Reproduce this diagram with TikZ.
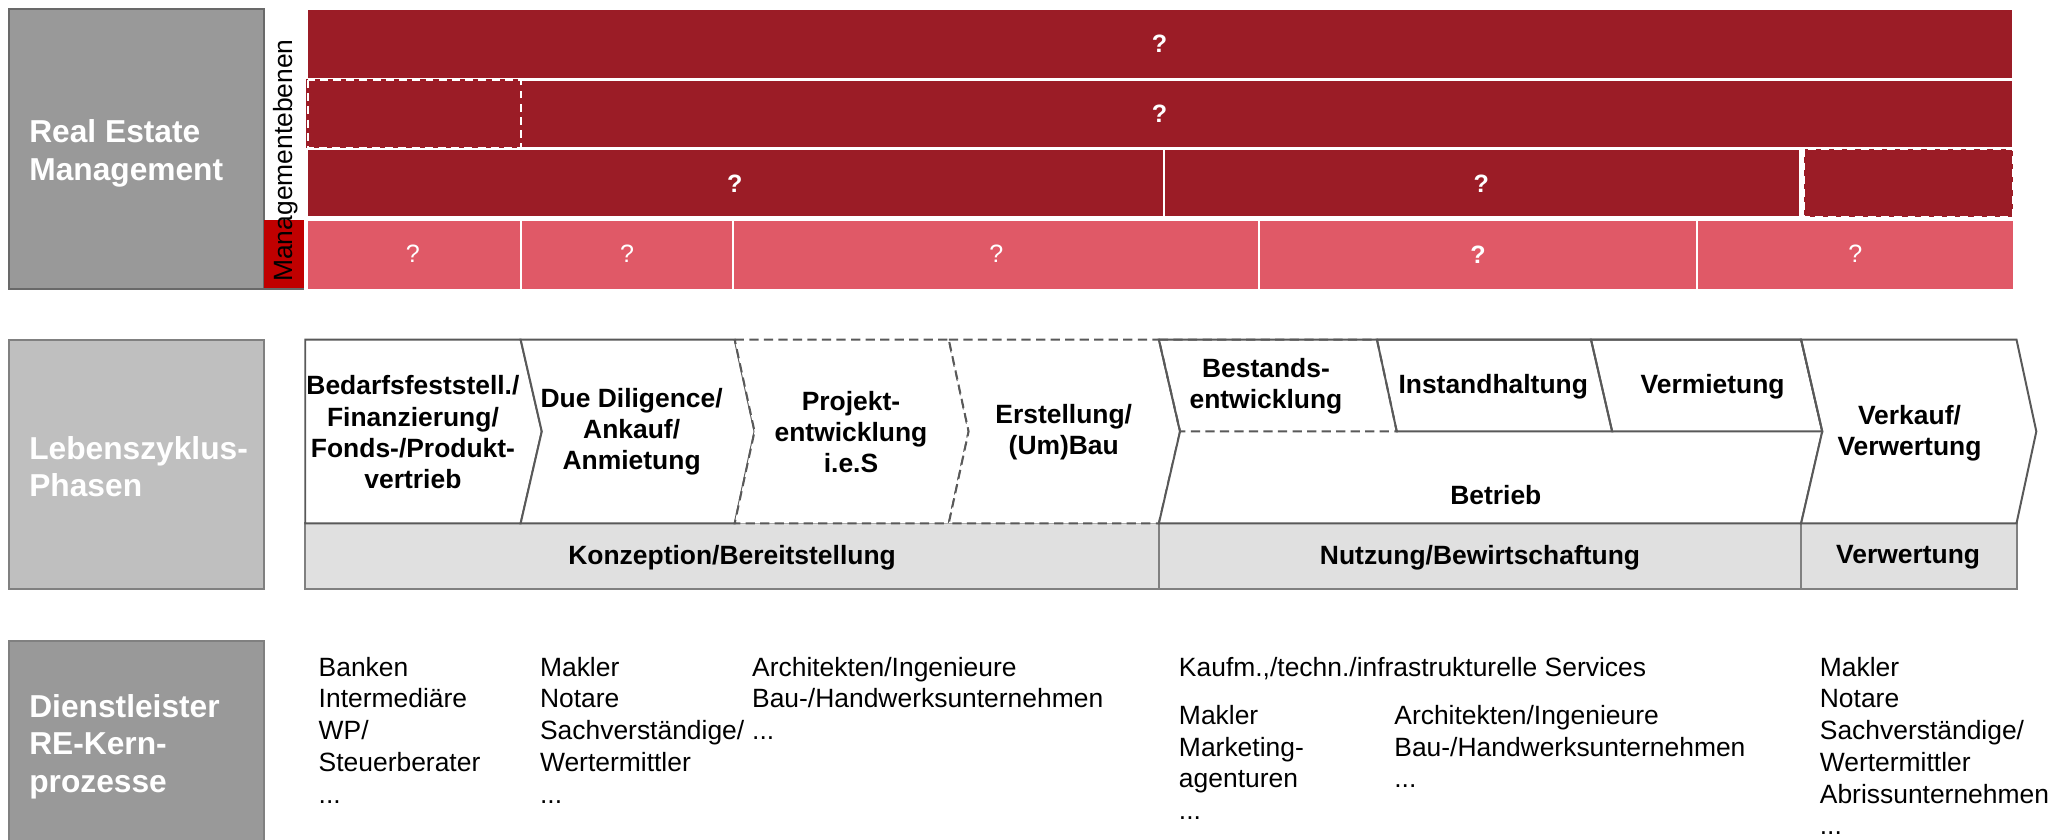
\documentclass[tikz,border=0pt]{standalone}
\usepackage{fontspec}
\setmainfont{Liberation Sans}
\definecolor{barDark}{RGB}{155,28,38}
\definecolor{barLight}{RGB}{224,89,103}
\definecolor{stripRed}{RGB}{192,0,0}
\definecolor{boxGray}{RGB}{153,153,153}
\definecolor{boxLight}{RGB}{191,191,191}
\definecolor{boxEdge}{RGB}{105,105,105}
\definecolor{bandFill}{RGB}{224,224,224}
\definecolor{bandEdge}{RGB}{128,128,128}
\definecolor{chevEdge}{RGB}{89,89,89}
\begin{document}
\begin{tikzpicture}[x=1pt,y=-1pt,
  darkcell/.style={fill=barDark,draw=white,line width=1.5pt},
  lightcell/.style={fill=barLight,draw=white,line width=1.5pt},
  whitedash/.style={draw=white,line width=1.5pt,dash pattern=on 6pt off 4pt},
  qbold/.style={text=white,inner sep=0,font=\fontsize{19}{22}\selectfont\bfseries},
  qthin/.style={text=white,inner sep=0,font=\fontsize{19}{22}\selectfont},
  sidebox/.style={draw=boxEdge,line width=1.5pt},
  sidelabel/.style={text=white,anchor=north west,inner sep=0,align=left,
    font=\fontsize{24}{28.5}\selectfont\bfseries},
  phase/.style={draw=chevEdge,line width=1.5pt,fill=white,line join=miter},
  phasedash/.style={phase,dash pattern=on 7pt off 4pt},
  outline/.style={draw=chevEdge,line width=1.5pt},
  outlinedash/.style={outline,dash pattern=on 7pt off 4pt},
  phasetext/.style={align=center,inner sep=0,
    font=\fontsize{20}{23.5}\selectfont\bfseries},
  band/.style={fill=bandFill,draw=bandEdge,line width=1.5pt},
  provider/.style={anchor=north west,inner sep=0,align=left,
    font=\fontsize{20}{24}\selectfont}]
\useasboundingbox (0,0) rectangle (1568,635);

% ---------- Real Estate Management ----------
\path[sidebox,fill=boxGray] (7,7) rectangle (200,218.5);
\node[sidelabel] (rem) at (22,90.5) {Real Estate\\Management};
\fill[stripRed] (200,166.5) rectangle (230,219);
\draw[boxEdge,line width=1.5pt] (7,219) -- (230,219);
\node[rotate=90,anchor=base,inner sep=0,font=\fontsize{20}{24}\selectfont]
  (ebenen) at (221,121.5) {Managementebenen};

% level 1
\path[darkcell] (232,7) rectangle (1523,59.5);
\node[qbold] (q11) at (877.5,33) {?};
% level 2, with a dashed field at its left end
\path[darkcell] (232,60.5) rectangle (1523,112);
\fill[barDark] (231.5,59.5) rectangle (394.5,113);
\draw[whitedash] (233,60.5) rectangle (394,112);
\node[qbold] (q21) at (877.5,86) {?};
% level 3
\path[darkcell] (232,113) rectangle (880.5,164.5);
\path[darkcell] (880.5,113) rectangle (1362,164.5);
\path[fill=barDark] (1365,113) rectangle (1523,164.5);
\draw[whitedash] (1365,113) rectangle (1523,164.5);
\node[qbold] (q31) at (556,139) {?};
\node[qbold] (q32) at (1121,139) {?};
% level 4
\path[lightcell] (232,166.5) rectangle (394,219.5);
\path[lightcell] (394,166.5) rectangle (555,219.5);
\path[lightcell] (555,166.5) rectangle (953,219.5);
\path[lightcell] (953,166.5) rectangle (1284,219.5);
\path[lightcell] (1284,166.5) rectangle (1524,219.5);
\node[qthin] (q41) at (312.5,192) {?};
\node[qthin] (q42) at (474.5,192) {?};
\node[qthin] (q43) at (754,192) {?};
\node[qbold] (q44) at (1118.5,193) {?};
\node[qthin] (q45) at (1404,192) {?};

% ---------- Lebenszyklus-Phasen ----------
\path[sidebox,fill=boxLight,draw=bandEdge] (7,257) rectangle (200,446);
\node[sidelabel] (lzp) at (22,330) {Lebenszyklus-\\Phasen};

% phase bands
\path[band] (231,396) rectangle (877,446);
\path[band] (877,396) rectangle (1363,446);
\path[band] (1363,396) rectangle (1526,446);
\node[phasetext] (konz) at (554,422) {Konzeption/Bereitstellung};
\node[phasetext] (nutz) at (1120,422) {Nutzung/Bewirtschaftung};
\node[phasetext] (verw) at (1444,422) {Verwertung};

% phase chevrons
\path[phase] (231,257) -- (394,257) -- (410,326.5) -- (394,396) -- (231,396) -- cycle;
\path[phase] (394,257) -- (556,257) -- (571,326.5) -- (556,396) -- (394,396) -- (410,326.5) -- cycle;
\path[phasedash] (556,257) -- (718,257) -- (733,326.5) -- (718,396) -- (556,396) -- (571,326.5) -- cycle;
\path[phasedash] (718,257) -- (877,257) -- (893,326.5) -- (877,396) -- (718,396) -- (733,326.5) -- cycle;
\path[phase] (877,257) -- (1363,257) -- (1379,326.5) -- (1363,396) -- (877,396) -- (893,326.5) -- cycle;
\path[phase] (1363,257) -- (1526,257) -- (1541,326.5) -- (1526,396) -- (1363,396) -- (1379,326.5) -- cycle;
% sub-phases of Betrieb
\path[outline] (1042,257) -- (1204,257) -- (1220,326.5) -- (1057,326.5) -- cycle;
\path[outline] (1204,257) -- (1363,257) -- (1379,326.5) -- (1220,326.5) -- cycle;
\path[outlinedash] (877,257) -- (1042,257) -- (1057,326.5) -- (893,326.5) -- cycle;

\node[phasetext] (p1) at (312.5,327) {Bedarfsfeststell./\\Finanzierung/\\Fonds-/Produkt-\\vertrieb};
\node[phasetext] (p2) at (478,327) {Due Diligence/\\Ankauf/\\Anmietung};
\node[phasetext] (p3) at (644,327) {Projekt-\\entwicklung\\i.e.S};
\node[phasetext] (p4) at (805,327) {Erstellung/\\(Um)Bau};
\node[phasetext] (p5) at (958,292) {Bestands-\\entwicklung};
\node[phasetext] (p6) at (1130,293) {Instandhaltung};
\node[phasetext] (p7) at (1296,293) {Vermietung};
\node[phasetext] (p8) at (1132,375) {Betrieb};
\node[phasetext] (p9) at (1445,328) {Verkauf/\\Verwertung};

% ---------- Dienstleister RE-Kernprozesse ----------
\path[sidebox,fill=boxGray,draw=bandEdge] (7,485) rectangle (200,645);
\node[sidelabel] (dl) at (22,525) {Dienstleister\\RE-Kern-\\prozesse};

\node[provider] (sA) at (241,497) {Banken\\Intermediäre\\WP/\\Steuerberater\\...};
\node[provider] (sB) at (408.5,497) {Makler\\Notare\\Sachverständige/\\Wertermittler\\...};
\node[provider] (sC) at (569,497) {Architekten/Ingenieure\\Bau-/Handwerksunternehmen\\...};
\node[provider] (sD) at (892,497) {Kaufm.,/techn./infrastrukturelle Services};
\node[provider] (sE) at (892,533.5) {Makler\\Marketing-\\agenturen\\...};
\node[provider] (sF) at (1055,533.5) {Architekten/Ingenieure\\Bau-/Handwerksunternehmen\\...};
\node[provider] (sG) at (1377,497) {Makler\\Notare\\Sachverständige/\\Wertermittler\\Abrissunternehmen\\...};
\end{tikzpicture}
\end{document}
